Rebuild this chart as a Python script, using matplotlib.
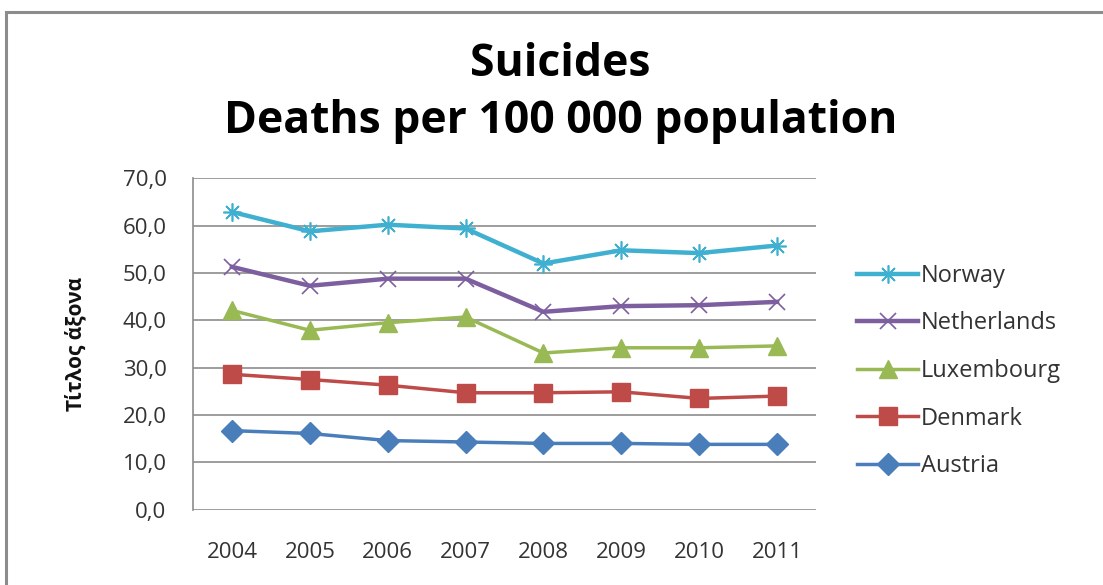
import matplotlib.pyplot as plt
from matplotlib.patches import Rectangle

years = ["2004", "2005", "2006", "2007", "2008", "2009", "2010", "2011"]
norway = [62.9, 58.8, 60.2, 59.4, 52.0, 54.8, 54.2, 55.8]
netherlands = [51.3, 47.3, 48.8, 48.8, 41.8, 43.0, 43.2, 43.9]
luxembourg = [42.1, 37.9, 39.5, 40.7, 33.1, 34.2, 34.2, 34.6]
denmark = [28.6, 27.5, 26.3, 24.7, 24.7, 24.9, 23.5, 24.0]
austria = [16.7, 16.1, 14.6, 14.3, 14.0, 14.0, 13.8, 13.8]

plt.rcParams['font.family'] = ['Open Sans', 'DejaVu Sans']

W, H = 1103, 585
fig = plt.figure(figsize=(W / 100, H / 100), dpi=100)

# grey outer chart border
fig.patches.append(Rectangle((6 / W, -0.1), 1.2, 1 - 12 / H + 0.1,
                             transform=fig.transFigure, fill=False,
                             edgecolor='#8c8c8c', linewidth=2.2))

ax = fig.add_axes([193 / W, 1 - 509.7 / H, (816 - 193) / W, (509.7 - 178.3) / H])
x = range(len(years))

series = [
    ("Austria", austria, '#4a7ebb', dict(marker='D', ms=11, lw=2.5)),
    ("Denmark", denmark, '#be4b48', dict(marker='s', ms=13, lw=2.5)),
    ("Luxembourg", luxembourg, '#98b954', dict(marker='^', ms=13, lw=2.5)),
    ("Netherlands", netherlands, '#7d5fa0', dict(marker='x', ms=12, mew=1.2, lw=3.2)),
    ("Norway", norway, '#3fb0cf', dict(marker=(8, 2, 0), ms=13, mew=1.2, lw=3.2)),
]
handles = []
for name, vals, col, kw in series:
    h, = ax.plot(x, vals, color=col, markerfacecolor=col, markeredgecolor=col,
                 label=name, clip_on=False, **kw)
    handles.append(h)

ax.set_xlim(-0.5, len(years) - 0.5)
ax.set_ylim(0, 70)
ax.set_yticks(range(0, 71, 10))
ax.set_yticklabels([f"{v},0" for v in range(0, 71, 10)])
ax.set_xticks(list(x))
ax.set_xticklabels(years)
ax.tick_params(length=0, labelsize=16, colors='#333333')
ax.tick_params(axis='y', pad=19)
ax.tick_params(axis='x', pad=23)
ax.yaxis.grid(True, color='#8c8c8c', linewidth=1.2)
ax.set_axisbelow(True)
for s in ['top', 'right', 'bottom']:
    ax.spines[s].set_visible(False)
ax.spines['left'].set_color('#8c8c8c')
ax.spines['left'].set_linewidth(1.2)

ax.set_ylabel("Τίτλος άξονα", fontsize=15, fontweight='bold', labelpad=26, color='#111111')

fig.text(0.508, 1 - 65 / H, "Suicides", ha='center', va='center',
         fontsize=32, fontweight='bold')
fig.text(0.508, 1 - 122 / H, "Deaths per 100 000 population", ha='center', va='center',
         fontsize=32, fontweight='bold')

ax.legend(handles[::-1], [h.get_label() for h in handles[::-1]],
          loc='center left', bbox_to_anchor=(857 / W, 1 - 371 / H),
          bbox_transform=fig.transFigure, frameon=False, fontsize=17,
          labelcolor='#333333',
          handlelength=2.6, handletextpad=0.1, labelspacing=1.0,
          borderaxespad=0, borderpad=0)

fig.savefig("out.png", dpi=100)
